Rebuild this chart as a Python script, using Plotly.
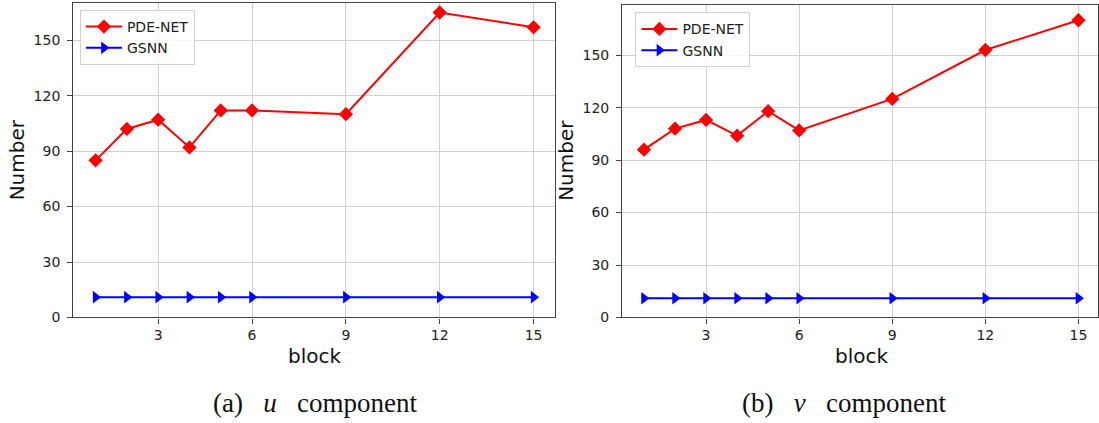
import plotly.graph_objects as go

blocks = [1, 2, 3, 4, 5, 6, 9, 12, 15]
pde_u = [85, 102, 107, 92, 112, 112, 110, 165, 157]
gsnn_u = [11, 11, 11, 11, 11, 11, 11, 11, 11]
pde_v = [96, 108, 113, 104, 118, 107, 125, 153, 170]
gsnn_v = [11, 11, 11, 11, 11, 11, 11, 11, 11]
x_ticks = [3, 6, 9, 12, 15]
y_ticks = [0, 30, 60, 90, 120, 150]

W, H = 1099, 423
H_EFF = 414  # visible height the page actually renders the figure at
RED = "#ff0000"
BLUE = "#0000ff"

fig = go.Figure()

def add_pair(pde, gsnn, xa, ya, leg):
    fig.add_trace(go.Scatter(
        x=blocks, y=pde, mode="lines+markers", name="PDE-NET",
        line=dict(color=RED, width=2),
        marker=dict(symbol="diamond", size=11, color=RED),
        xaxis=xa, yaxis=ya, legend=leg))
    fig.add_trace(go.Scatter(
        x=blocks, y=gsnn, mode="lines+markers", name="GSNN",
        line=dict(color=BLUE, width=2),
        marker=dict(symbol="triangle-right", size=11, color=BLUE),
        xaxis=xa, yaxis=ya, legend=leg))

add_pair(pde_u, gsnn_u, "x", "y", "legend")
add_pair(pde_v, gsnn_v, "x2", "y2", "legend2")

tickfont = dict(family="DejaVu Sans", size=14, color="#222222")
common_x = dict(tickvals=x_ticks, showgrid=True, gridcolor="#d0d0d0", gridwidth=1.2,
                showline=True, linecolor="#444444", linewidth=1.2, mirror=True,
                ticks="outside", ticklen=5, tickcolor="#444444", tickfont=tickfont,
                zeroline=False, fixedrange=True)
common_y = dict(tickvals=y_ticks, showgrid=True, gridcolor="#d0d0d0", gridwidth=1.2,
                showline=True, linecolor="#444444", linewidth=1.2, mirror=True,
                ticks="outside", ticklen=5, tickcolor="#444444", tickfont=tickfont,
                zeroline=False, fixedrange=True, ticklabelstandoff=4)

def px_x(p):
    return p / W

def px_y(p):
    return 1 - p / H_EFF

legend_common = dict(xanchor="left", yanchor="top",
                     bgcolor="rgba(255,255,255,0.85)", bordercolor="#d0d0d0", borderwidth=1,
                     font=dict(family="DejaVu Sans", size=14, color="#222222"),
                     tracegroupgap=0, itemwidth=36)

fig.update_layout(
    width=W, height=H, autosize=False,
    margin=dict(l=0, r=0, t=0, b=0),
    paper_bgcolor="white", plot_bgcolor="white",
    xaxis=dict(domain=[px_x(73.3), px_x(555.7)], range=[0.285, 15.69], anchor="y", **common_x),
    yaxis=dict(domain=[px_y(316.7), px_y(2.7)], range=[0, 170.3], anchor="x", **common_y),
    xaxis2=dict(domain=[px_x(622.7), 1.0], range=[0.295, 15.63], anchor="y2", **common_x),
    yaxis2=dict(domain=[px_y(316.7), px_y(4.7)], range=[0, 178.9], anchor="x2", **common_y),
    legend=dict(x=px_x(80), y=px_y(10), **legend_common),
    legend2=dict(x=px_x(636), y=px_y(12.3), **legend_common),
    showlegend=True,
)

label_font = dict(family="DejaVu Sans", size=20, color="#111111")
cap_font = dict(family="Liberation Serif", size=27, color="#111111")
NB = "\u00a0"

annotations = [
    dict(text="Number", x=px_x(17), y=px_y(159), textangle=-90, font=label_font),
    dict(text="Number", x=px_x(567), y=px_y(160), textangle=-90, font=label_font),
    dict(text="block", x=px_x(314.5), y=px_y(355), font=label_font),
    dict(text="block", x=px_x(862), y=px_y(355), font=label_font),
    dict(text="(a)" + NB * 2 + " <i>u</i>" + NB * 2 + " component",
         x=px_x(315.4), y=px_y(402), font=cap_font),
    dict(text="(b)" + NB * 2 + " <i>v</i>" + NB * 2 + " component",
         x=px_x(845), y=px_y(402), font=cap_font),
]
for a in annotations:
    a.update(xref="paper", yref="paper", showarrow=False, xanchor="center", yanchor="middle")
fig.update_layout(annotations=annotations)

post = ("var d=document.documentElement,b=document.body;"
        "d.style.margin='0';b.style.margin='0';b.style.padding='0';"
        "d.style.overflow='hidden';b.style.overflow='hidden';")

fig.write_html("out.html", config={"displayModeBar": False, "responsive": False},
               post_script=post)
